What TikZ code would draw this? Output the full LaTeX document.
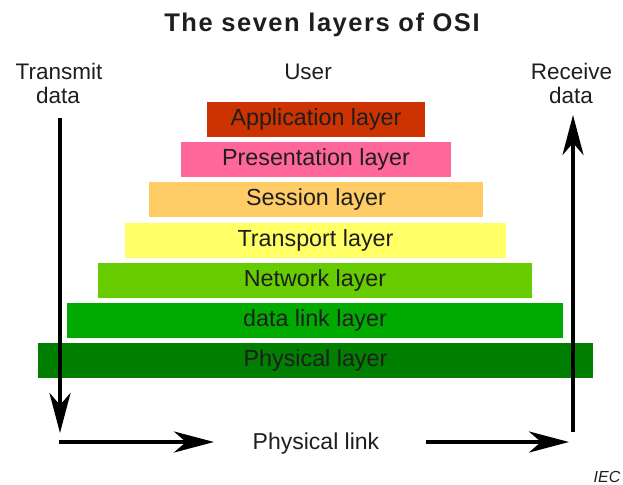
\documentclass[tikz,border=0pt]{standalone}
\usepackage{fontspec}
\setmainfont{Liberation Sans}
\newfontfamily\titlefont{Liberation Sans}[LetterSpace=6.0]
\usetikzlibrary{arrows.meta}

\definecolor{appc}{HTML}{CC3300}
\definecolor{presc}{HTML}{FF6699}
\definecolor{sessc}{HTML}{FFCC66}
\definecolor{transc}{HTML}{FFFF66}
\definecolor{netc}{HTML}{66CC00}
\definecolor{dlc}{HTML}{00AA00}
\definecolor{physc}{HTML}{007F00}
\definecolor{inkc}{HTML}{1E1E1E}

\begin{document}
\begin{tikzpicture}[x=1pt,y=-1pt,
  layerbox/.style={fill=#1, draw=none, inner sep=0pt, minimum height=35pt,
    text=inkc, text height=17pt, text depth=5pt,
    font=\fontsize{23.3}{27}\selectfont},
  plain/.style={text=inkc, inner sep=0pt, anchor=base,
    font=\fontsize{22.5}{27}\selectfont},
  flow/.style={line width=4pt, draw=black,
    -{Stealth[length=40pt, width=21pt, inset=12pt]}}
]
\useasboundingbox (0,0) rectangle (623,484);

% title
\node[inner sep=0pt, anchor=base, text=inkc,
  font=\titlefont\bfseries\fontsize{25.5}{30}\selectfont] (title) at (322,31.5)
  {The seven layers of OSI};

% column headings
\node[plain] (tx1) at (59,80) {Transmit};
\node[plain] (tx2) at (58,104) {data};
\node[plain] (user) at (308,80) {User};
\node[plain] (rx1) at (571.5,80) {Receive};
\node[plain] (rx2) at (571,104) {data};

% the layer stack
\node[layerbox=appc,   minimum width=218pt] (app)   at (316,119.5) {Application layer};
\node[layerbox=presc,  minimum width=270pt] (pres)  at (316,159.5) {Presentation layer};
\node[layerbox=sessc,  minimum width=334pt] (sess)  at (316,199.5) {Session layer};
\node[layerbox=transc, minimum width=381pt] (trans) at (315.5,240.5) {Transport layer};
\node[layerbox=netc,   minimum width=434pt] (net)   at (315,280.5) {Network layer};
\node[layerbox=dlc,    minimum width=496pt] (dl)    at (315,320.5) {data link layer};
\node[layerbox=physc,  minimum width=555pt] (phys)  at (315.5,360.5) {Physical layer};

% physical link label and footnote
\node[plain, font=\fontsize{23}{27}\selectfont] (link) at (316,449) {Physical link};
\node[text=inkc, inner sep=0pt, anchor=base, font=\itshape\fontsize{16}{18}\selectfont]
  (iec) at (607,482) {IEC};

% data flow
\coordinate (sendtop) at (60,118);
\coordinate (sendbot) at (60,433);
\coordinate (linkAa) at (59,442);
\coordinate (linkAb) at (214,442);
\coordinate (linkBa) at (426,442);
\coordinate (linkBb) at (569,442);
\coordinate (recvbot) at (573,432);
\coordinate (recvtop) at (573,115);

\draw[flow] (sendtop) -- (sendbot);
\draw[flow] (linkAa) -- (linkAb);
\draw[flow] (linkBa) -- (linkBb);
\draw[flow] (recvbot) -- (recvtop);
\end{tikzpicture}
\end{document}
